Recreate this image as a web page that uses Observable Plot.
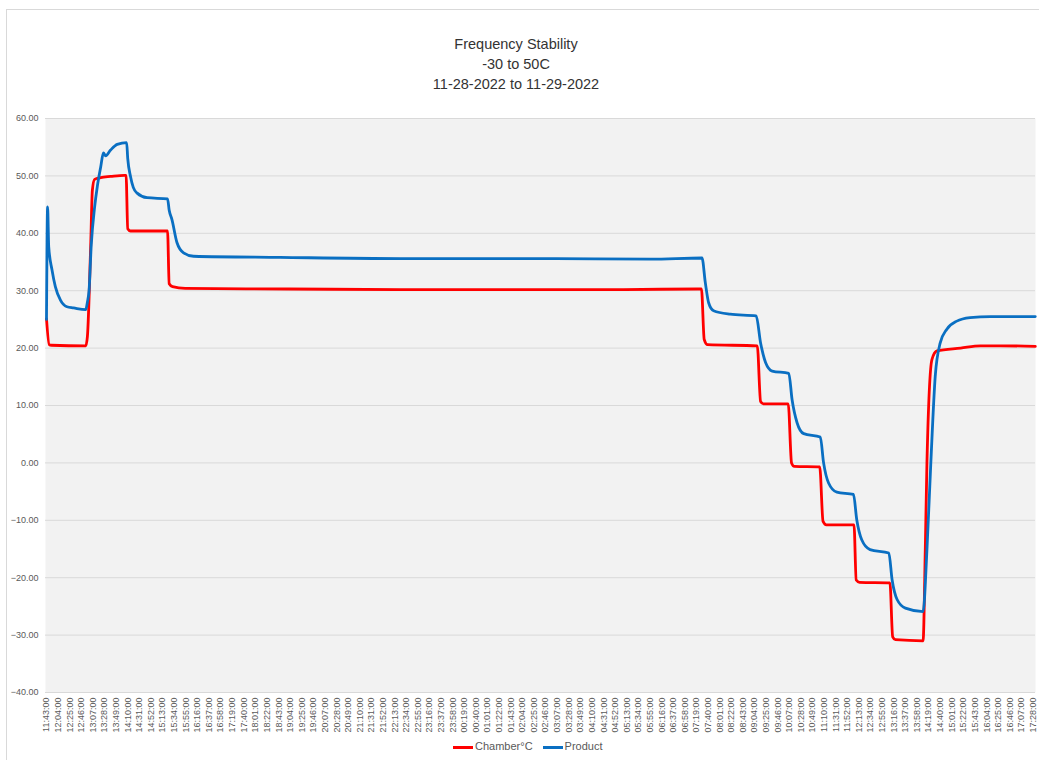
<!DOCTYPE html>
<html><head><meta charset="utf-8">
<script src="https://cdn.jsdelivr.net/npm/d3@7"></script>
<script src="https://cdn.jsdelivr.net/npm/@observablehq/plot@0.6"></script>
<style>
body{margin:0;background:#fff;font-family:"Liberation Sans",Arial,sans-serif;}
#wrap{position:relative;width:1039px;height:760px;overflow:hidden;background:#fff}
#border{position:absolute;left:6px;top:9px;width:1060px;height:800px;border:1px solid #d9d9d9;box-sizing:border-box}
#title{position:absolute;left:0;top:34px;width:1032px;text-align:center;font-size:14.5px;line-height:20px;color:#333}
#chart{position:absolute;left:0;top:100px}
#legend{position:absolute;left:453px;top:740px;font-size:11px;color:#595959;white-space:nowrap}
#legend .sw{display:inline-block;width:20px;height:3px;vertical-align:middle;margin-right:2px}
#legend .it{margin-right:10px}
</style></head>
<body><div id="wrap"><div id="border"></div>
<div id="title">Frequency Stability<br>-30 to 50C<br>11-28-2022 to 11-29-2022</div>
<div id="chart"></div>
<div id="legend"><span class="it"><span class="sw" style="background:#ff0000"></span>Chamber°C</span><span class="it"><span class="sw" style="background:#0a6fc2"></span>Product</span></div>
</div>
<script>
const seriesNames = ["Chamber°C", "Product"];
const chamberTimes = ["2022-11-28T11:43","2022-11-28T11:48","2022-11-28T11:52","2022-11-28T12:54","2022-11-28T12:57","2022-11-28T13:03","2022-11-28T13:06","2022-11-28T13:10","2022-11-28T13:21","2022-11-28T13:39","2022-11-28T14:04","2022-11-28T14:07","2022-11-28T14:10","2022-11-28T14:15","2022-11-28T15:22","2022-11-28T15:25","2022-11-28T15:31","2022-11-28T15:54","2022-11-28T19:00","2022-11-28T22:23","2022-11-29T02:00","2022-11-29T05:00","2022-11-29T07:28","2022-11-29T07:33","2022-11-29T07:39","2022-11-29T09:09","2022-11-29T09:15","2022-11-29T09:20","2022-11-29T10:05","2022-11-29T10:11","2022-11-29T10:16","2022-11-29T11:02","2022-11-29T11:08","2022-11-29T11:14","2022-11-29T12:04","2022-11-29T12:08","2022-11-29T12:14","2022-11-29T13:09","2022-11-29T13:14","2022-11-29T13:19","2022-11-29T14:09","2022-11-29T14:13","2022-11-29T14:16","2022-11-29T14:25","2022-11-29T14:34","2022-11-29T15:17","2022-11-29T15:53","2022-11-29T16:29","2022-11-29T17:32"];
const chamberValues = [25.1,20.6,20.5,20.4,22.0,38.0,47.5,49.4,49.7,49.9,50.1,50.1,40.8,40.4,40.4,31.2,30.7,30.4,30.3,30.2,30.2,30.2,30.3,21.5,20.6,20.4,10.7,10.3,10.3,0.0,-0.6,-0.7,-10.2,-10.8,-10.8,-20.4,-20.8,-20.9,-30.3,-30.8,-31.0,-15.0,0.0,18.0,19.5,20.0,20.4,20.4,20.3];
const productTimes = ["2022-11-28T11:43","2022-11-28T11:45","2022-11-28T11:47","2022-11-28T11:53","2022-11-28T11:59","2022-11-28T12:08","2022-11-28T12:20","2022-11-28T12:32","2022-11-28T12:54","2022-11-28T12:57","2022-11-28T13:00","2022-11-28T13:04","2022-11-28T13:10","2022-11-28T13:15","2022-11-28T13:21","2022-11-28T13:26","2022-11-28T13:30","2022-11-28T13:39","2022-11-28T13:51","2022-11-28T14:08","2022-11-28T14:10","2022-11-28T14:15","2022-11-28T14:20","2022-11-28T14:27","2022-11-28T14:45","2022-11-28T15:22","2022-11-28T15:25","2022-11-28T15:30","2022-11-28T15:39","2022-11-28T15:51","2022-11-28T16:09","2022-11-28T18:46","2022-11-28T22:23","2022-11-29T02:55","2022-11-29T05:56","2022-11-29T07:29","2022-11-29T07:35","2022-11-29T07:41","2022-11-29T07:50","2022-11-29T08:20","2022-11-29T09:07","2022-11-29T09:15","2022-11-29T09:24","2022-11-29T09:36","2022-11-29T10:06","2022-11-29T10:12","2022-11-29T10:21","2022-11-29T10:33","2022-11-29T11:03","2022-11-29T11:09","2022-11-29T11:18","2022-11-29T11:33","2022-11-29T12:03","2022-11-29T12:09","2022-11-29T12:18","2022-11-29T12:33","2022-11-29T13:07","2022-11-29T13:13","2022-11-29T13:22","2022-11-29T13:37","2022-11-29T14:09","2022-11-29T14:16","2022-11-29T14:23","2022-11-29T14:31","2022-11-29T14:40","2022-11-29T14:52","2022-11-29T15:10","2022-11-29T15:34","2022-11-29T16:11","2022-11-29T17:32"];
const productValues = [25.0,44.6,37.7,33.6,30.7,28.4,27.2,27.0,26.7,28.0,30.0,38.0,44.5,48.2,51.5,54.0,53.5,54.5,55.5,55.8,53.0,49.9,48.0,47.0,46.2,46.0,44.0,42.4,38.4,36.6,36.0,35.8,35.6,35.6,35.5,35.7,31.4,27.9,26.5,25.9,25.6,20.9,17.5,16.0,15.6,11.0,7.0,5.1,4.5,0.0,-3.5,-5.1,-5.5,-9.9,-13.4,-15.1,-15.7,-20.4,-23.8,-25.3,-25.9,-15.1,0.0,15.1,20.9,23.3,24.7,25.3,25.5,25.5];
const yTicks = [-40,-30,-20,-10,0,10,20,30,40,50,60];
const tickLabels = ["11:43:00","12:04:00","12:25:00","12:46:00","13:07:00","13:28:00","13:49:00","14:10:00","14:31:00","14:52:00","15:13:00","15:34:00","15:55:00","16:16:00","16:37:00","16:58:00","17:19:00","17:40:00","18:01:00","18:22:00","18:43:00","19:04:00","19:25:00","19:46:00","20:07:00","20:28:00","20:49:00","21:10:00","21:31:00","21:52:00","22:13:00","22:34:00","22:55:00","23:16:00","23:37:00","23:58:00","00:19:00","00:40:00","01:01:00","01:22:00","01:43:00","02:04:00","02:25:00","02:46:00","03:07:00","03:28:00","03:49:00","04:10:00","04:31:00","04:52:00","05:13:00","05:34:00","05:55:00","06:16:00","06:37:00","06:58:00","07:19:00","07:40:00","08:01:00","08:22:00","08:43:00","09:04:00","09:25:00","09:46:00","10:07:00","10:28:00","10:49:00","11:10:00","11:31:00","11:52:00","12:13:00","12:34:00","12:55:00","13:16:00","13:37:00","13:58:00","14:19:00","14:40:00","15:01:00","15:22:00","15:43:00","16:04:00","16:25:00","16:46:00","17:07:00","17:28:00"];

const parse = s => new Date(s + ":00Z");
const chamber = chamberTimes.map((t, i) => ({t: parse(t), v: chamberValues[i], s: seriesNames[0]}));
const product = productTimes.map((t, i) => ({t: parse(t), v: productValues[i], s: seriesNames[1]}));
let day = 28, prev = null;
const tickDates = tickLabels.map(l => { if (prev !== null && l < prev) day = 29; prev = l; return new Date(`2022-11-${day}T${l}Z`); });
const labelOf = new Map(tickDates.map((d, i) => [+d, tickLabels[i]]));

const chart = Plot.plot({
  width: 1039, height: 635,
  marginLeft: 45, marginRight: 4, marginTop: 18, marginBottom: 43,
  style: {fontFamily: '"Liberation Sans", Arial, sans-serif', fontSize: "9px", color: "#595959", background: "transparent"},
  x: {type: "utc", domain: [new Date("2022-11-28T11:41:12Z"), new Date("2022-11-29T17:32:24Z")], ticks: tickDates, tickFormat: d => labelOf.get(+d), tickRotate: -90, tickSize: 0, tickPadding: 5, label: null},
  y: {domain: [-40, 60], ticks: yTicks, tickFormat: d3.format(".2f"), tickSize: 0, tickPadding: 7, label: null},
  color: {domain: seriesNames, range: ["#ff0000", "#0a6fc2"]},
  marks: [
    Plot.frame({fill: "#f2f2f2"}),
    Plot.ruleY(yTicks, {stroke: "#d9d9d9", strokeWidth: 1}),
    Plot.line(chamber, {x: "t", y: "v", stroke: "s", strokeWidth: 2.8, curve: "monotone-x"}),
    Plot.line(product, {x: "t", y: "v", stroke: "s", strokeWidth: 2.8, curve: "monotone-x"})
  ]
});
document.getElementById("chart").appendChild(chart);
</script>
</body></html>
